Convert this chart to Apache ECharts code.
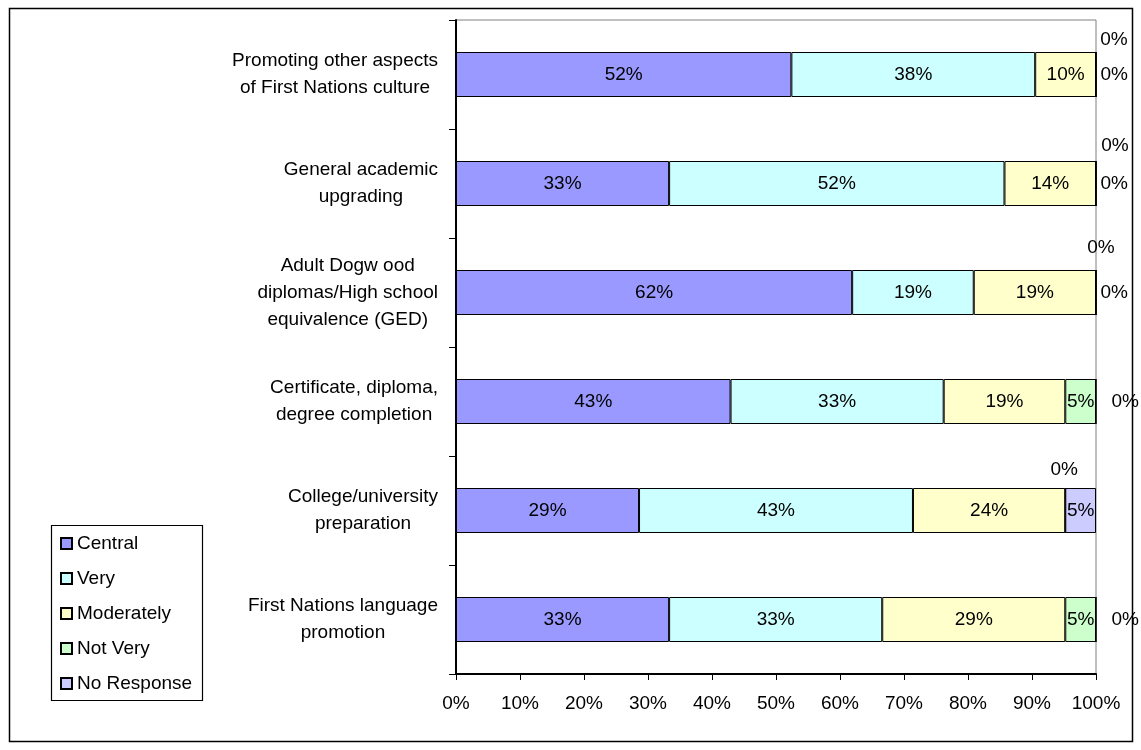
<!DOCTYPE html>
<html><head><meta charset="utf-8">
<script src="https://cdn.jsdelivr.net/npm/echarts@6/dist/echarts.min.js"></script>
<style>html,body{margin:0;padding:0;background:#fff}#c{width:1141px;height:750px}</style>
</head><body><div id="c"></div>
<script>
const categories = [
  'Promoting other aspects\nof First Nations culture',
  'General academic\nupgrading',
  'Adult Dogw ood\ndiplomas/High school\nequivalence (GED)',
  'Certificate, diploma,\ndegree completion',
  'College/university\npreparation',
  'First Nations language\npromotion'
];
const seriesNames = ['Central', 'Very', 'Moderately', 'Not Very', 'No Response'];
const central    = [52.4, 33.3, 61.9, 42.9, 28.6, 33.3];
const very       = [38.1, 52.4, 19.0, 33.3, 42.8, 33.3];
const moderately = [9.5, 14.3, 19.1, 19.0, 23.8, 28.6];
const notVery    = [0, 0, 0, 4.8, 0, 4.8];
const noResponse = [0, 0, 0, 0, 4.8, 0];
const xMin = 0, xMax = 100, xStep = 10;

const colors = ['#9999FF', '#CCFFFF', '#FFFFCC', '#CCFFCC', '#CCCCFF'];
const FONT = "'Liberation Sans', Arial, sans-serif";
// label offsets (style only) for zero "Not Very" labels drawn above bars
const zeroTopOffsets = [[18, 3], [19, 0], [5, -7], null, [-1, -3], null];

const allValues = [central, very, moderately, notVery, noResponse];
const fmt = v => Math.round(v) + '%';

function buildData(si) {
  return allValues[si].map((v, ci) => {
    if (v !== 0) return v;
    let label;
    if (si === 3) {
      const off = zeroTopOffsets[ci] || [0, 0];
      label = { position: 'top', distance: 5, offset: off };
    } else {
      const dist = notVery[ci] === 0 ? 4 : 15;
      label = { position: 'right', distance: dist };
    }
    return { value: v, label: label };
  });
}

const series = seriesNames.map((name, si) => ({
  name: name,
  type: 'bar',
  stack: 'total',
  barWidth: 45,
  data: buildData(si),
  itemStyle: { color: colors[si], borderColor: '#000', borderWidth: 1 },
  label: {
    show: true, position: 'inside', color: '#000',
    fontFamily: FONT, fontSize: 19,
    formatter: p => fmt(p.value)
  },
  emphasis: { disabled: true }
}));

const chart = echarts.init(document.getElementById('c'));
chart.setOption({
  animation: false,
  backgroundColor: '#fff',
  graphic: [
    { type: 'rect', shape: { x: 9.5, y: 8.5, width: 1123, height: 733 },
      style: { fill: 'none', stroke: '#000', lineWidth: 1.5 }, z: 0 },
    { type: 'rect', shape: { x: 51.5, y: 525.5, width: 151, height: 175 },
      style: { fill: 'none', stroke: '#000', lineWidth: 1.2 }, z: 0 }
  ],
  grid: {
    left: 456, right: 45, top: 20, bottom: 76,
    show: true, borderColor: '#808080', borderWidth: 1, backgroundColor: 'transparent'
  },
  legend: {
    data: seriesNames,
    orient: 'vertical',
    left: 60, top: 534,
    padding: 0,
    itemWidth: 11, itemHeight: 11, itemGap: 16,
    icon: 'rect',
    selectedMode: false,
    textStyle: { fontFamily: FONT, fontSize: 19, lineHeight: 19, color: '#000' }
  },
  xAxis: {
    type: 'value', min: xMin, max: xMax, interval: xStep,
    axisLine: { show: true, lineStyle: { color: '#000', width: 2 } },
    axisTick: { show: true, length: 6, lineStyle: { color: '#000', width: 1 } },
    splitLine: { show: false },
    axisLabel: { formatter: '{value}%', color: '#000', fontFamily: FONT, fontSize: 19, margin: 20 }
  },
  yAxis: {
    type: 'category', inverse: true, data: categories,
    axisLine: { show: true, lineStyle: { color: '#000', width: 2 } },
    axisTick: { show: true, length: 7, lineStyle: { color: '#000', width: 1 } },
    axisLabel: {
      color: '#000', fontFamily: FONT, fontSize: 19, margin: 18, align: 'right',
      formatter: v => v.split('\n').map(l => '{c|' + l + '}').join('\n'),
      rich: { c: { align: 'center', fontFamily: FONT, fontSize: 19, lineHeight: 27, color: '#000' } }
    }
  },
  series: series
});
</script></body></html>
